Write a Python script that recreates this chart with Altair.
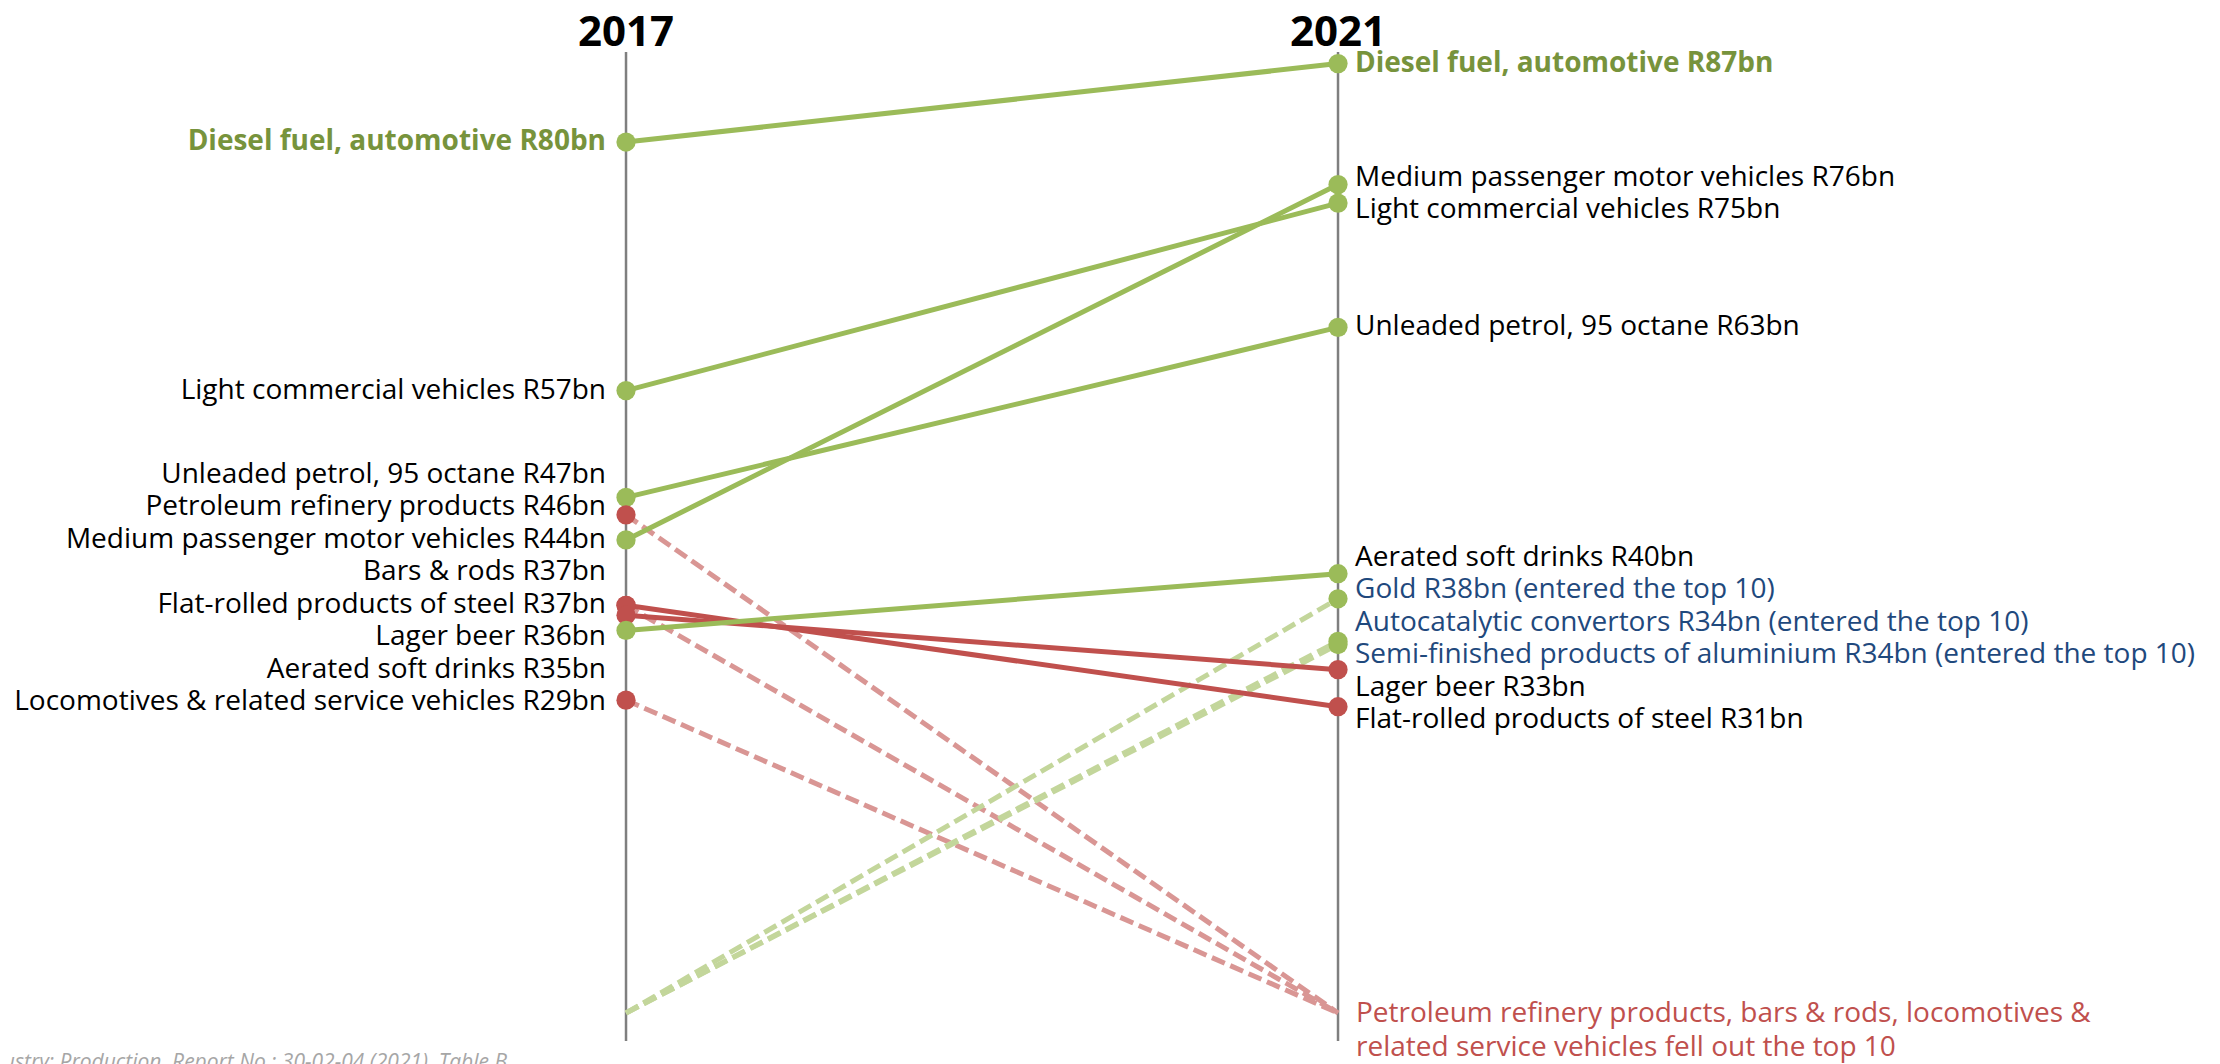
import altair as alt
import pandas as pd

# ---------------- data ----------------
items = [
    "Diesel fuel, automotive",
    "Light commercial vehicles",
    "Unleaded petrol, 95 octane",
    "Petroleum refinery products",
    "Medium passenger motor vehicles",
    "Bars & rods",
    "Flat-rolled products of steel",
    "Lager beer",
    "Aerated soft drinks",
    "Locomotives & related service vehicles",
    "Gold",
    "Autocatalytic convertors",
    "Semi-finished products of aluminium",
]
# plotted values (R bn), read off the point positions (None = not in top 10)
val_2017 = [79.9, 57.1, 47.3, 45.7, 43.4, 37.4, 37.4, 36.5, 35.1, 28.7, None, None, None]
val_2021 = [87.1, 74.3, 62.9, None, 76.0, None, 28.1, 31.5, 40.3, None, 38.0, 34.1, 33.8]
# rounded values printed in the labels
lab_2017 = [80, 57, 47, 46, 44, 37, 37, 36, 35, 29, None, None, None]
lab_2021 = [87, 75, 63, None, 76, None, 31, 33, 40, None, 38, 34, 34]
highlight = "Diesel fuel, automotive"
OUT_VALUE = 0.0  # where items outside the top 10 meet the axis
years = [2017, 2021]
note_text = "Petroleum refinery products, bars & rods, locomotives &\nrelated service vehicles fell out the top 10"
source_text = "Source: Stats SA, Manufacturing Industry: Production, Report No.: 30-02-04 (2021), Table B"

# ---------------- styling / layout ----------------
FONT = "Open Sans"
GREEN, RED = "#9BBB59", "#C0504D"
LIGHT_GREEN, LIGHT_RED = "#C3D69B", "#D99694"
DARK_GREEN, BLUE, BLACK = "#77933C", "#1F497D", "#000000"
W, H = 2204, 1056
X_DOMAIN = [2013.528, 2025.910]
Y_DOMAIN = [-4.68, 92.2]
LABEL_GAP = 32.5
FS = 28


def to_px(v):
    return (Y_DOMAIN[1] - v) / (Y_DOMAIN[1] - Y_DOMAIN[0]) * H


def to_val(p):
    return Y_DOMAIN[1] - p / H * (Y_DOMAIN[1] - Y_DOMAIN[0])


def spread(values, gap=LABEL_GAP):
    order = sorted(range(len(values)), key=lambda i: to_px(values[i]))
    clusters = [[to_px(values[i])] for i in order]

    def place(c):
        m = sum(c) / len(c)
        n = len(c)
        return [m + (k - (n - 1) / 2) * gap for k in range(n)]

    changed = True
    while changed:
        changed = False
        for j in range(len(clusters) - 1):
            a, b = place(clusters[j]), place(clusters[j + 1])
            if b[0] - a[-1] < gap:
                clusters[j] = clusters[j] + clusters[j + 1]
                del clusters[j + 1]
                changed = True
                break
    out = [p for c in clusters for p in place(c)]
    res = [None] * len(values)
    for idx, p in zip(order, out):
        res[idx] = to_val(p)
    return res


# ---------------- build tables ----------------
line_rows, point_rows = [], []
kinds = {}
for name, a, b in zip(items, val_2017, val_2021):
    if a is not None and b is not None:
        kind = "up" if b > a else "down"
    elif a is not None:
        kind = "exit"
    else:
        kind = "enter"
    kinds[name] = kind
    for yr, v in zip(years, [a, b]):
        line_rows.append({"item": name, "year": yr, "value": OUT_VALUE if v is None else v, "kind": kind})
        if v is not None:
            point_rows.append({"item": name, "year": yr, "value": v,
                               "pcol": "g" if kind in ("up", "enter") else "r"})
lines = pd.DataFrame(line_rows)
points = pd.DataFrame(point_rows)

label_rows = []
for yr, vals, labs in [(2017, val_2017, lab_2017), (2021, val_2021, lab_2021)]:
    names = [n for n, v in zip(items, vals) if v is not None]
    vv = [v for v in vals if v is not None]
    ll = [l for l in labs if l is not None]
    ly = spread(vv)
    for n, v, l, y in zip(names, vv, ll, ly):
        txt = f"{n} R{l}bn"
        if kinds[n] == "enter":
            txt += " (entered the top 10)"
            cls = "blue"
        elif n == highlight:
            cls = "hl"
        else:
            cls = "black"
        label_rows.append({"year": yr, "ly": y, "text": txt, "cls": cls})
labels = pd.DataFrame(label_rows)

axes_df = pd.DataFrame({"year": years, "top": [to_val(44)] * 2, "bottom": [to_val(1033)] * 2,
                        "title": [str(y) for y in years]})

x_enc = alt.X("year:Q", scale=alt.Scale(domain=X_DOMAIN, nice=False, zero=False), axis=None)
y_scale = alt.Scale(domain=Y_DOMAIN, nice=False, zero=False)

axis_rules = alt.Chart(axes_df).mark_rule(color="#7F7F7F", strokeWidth=2.5).encode(
    x=x_enc, y=alt.Y("top:Q", scale=y_scale, axis=None), y2="bottom:Q")

titles = alt.Chart(axes_df).mark_text(font=FONT, fontSize=42, fontWeight="bold", color=BLACK,
                                      align="center", baseline="alphabetic").encode(
    x=x_enc, y=alt.value(38), text="title:N")

dashed = alt.Chart(lines).transform_filter(
    "datum.kind == 'enter' || datum.kind == 'exit'").mark_line(
    strokeWidth=5, strokeDash=[14, 6]).encode(
    x=x_enc, y=alt.Y("value:Q", scale=y_scale, axis=None), detail="item:N",
    color=alt.Color("kind:N", scale=alt.Scale(domain=["enter", "exit"], range=[LIGHT_GREEN, LIGHT_RED]),
                    legend=None))

solid = alt.Chart(lines).transform_filter(
    "datum.kind == 'up' || datum.kind == 'down'").mark_line(strokeWidth=5).encode(
    x=x_enc, y=alt.Y("value:Q", scale=y_scale, axis=None), detail="item:N",
    color=alt.Color("kind:N", scale=alt.Scale(domain=["up", "down"], range=[GREEN, RED]), legend=None))

dots = alt.Chart(points).mark_circle(size=370, opacity=1).encode(
    x=x_enc, y=alt.Y("value:Q", scale=y_scale, axis=None),
    color=alt.Color("pcol:N", scale=alt.Scale(domain=["g", "r"], range=[GREEN, RED]), legend=None))

col_scale = alt.Scale(domain=["black", "blue", "hl"], range=[BLACK, BLUE, DARK_GREEN])


def label_layer(yr, align, dx, bold):
    flt = f"datum.year == {yr} && " + ("datum.cls == 'hl'" if bold else "datum.cls != 'hl'")
    return alt.Chart(labels).transform_filter(flt).mark_text(
        font=FONT, fontSize=FS, fontWeight="bold" if bold else "normal",
        align=align, baseline="middle", dx=dx).encode(
        x=x_enc, y=alt.Y("ly:Q", scale=y_scale, axis=None), text="text:N",
        color=alt.Color("cls:N", scale=col_scale, legend=None))


note = alt.Chart(pd.DataFrame({"year": [2021], "text": [note_text]})).mark_text(
    font=FONT, fontSize=FS, color=RED, align="left", baseline="top", dx=18,
    lineBreak="\n", lineHeight=34).encode(x=x_enc, y=alt.value(992), text="text:N")

source = alt.Chart(pd.DataFrame({"text": [source_text]})).mark_text(
    font=FONT, fontSize=21, fontStyle="italic", color="#A6A6A6", align="right",
    baseline="alphabetic").encode(x=alt.value(499), y=alt.value(1061), text="text:N")

chart = alt.layer(
    axis_rules, dashed, solid, dots,
    label_layer(2017, "right", -20, False), label_layer(2017, "right", -20, True),
    label_layer(2021, "left", 17, False), label_layer(2021, "left", 17, True),
    titles, note, source,
).resolve_scale(color="independent").properties(
    width=W, height=H, padding=0, autosize=alt.AutoSizeParams(type="none"),
    background="white",
).configure_view(stroke=None)

chart.save("out.html", embed_options={"renderer": "svg", "actions": False})
